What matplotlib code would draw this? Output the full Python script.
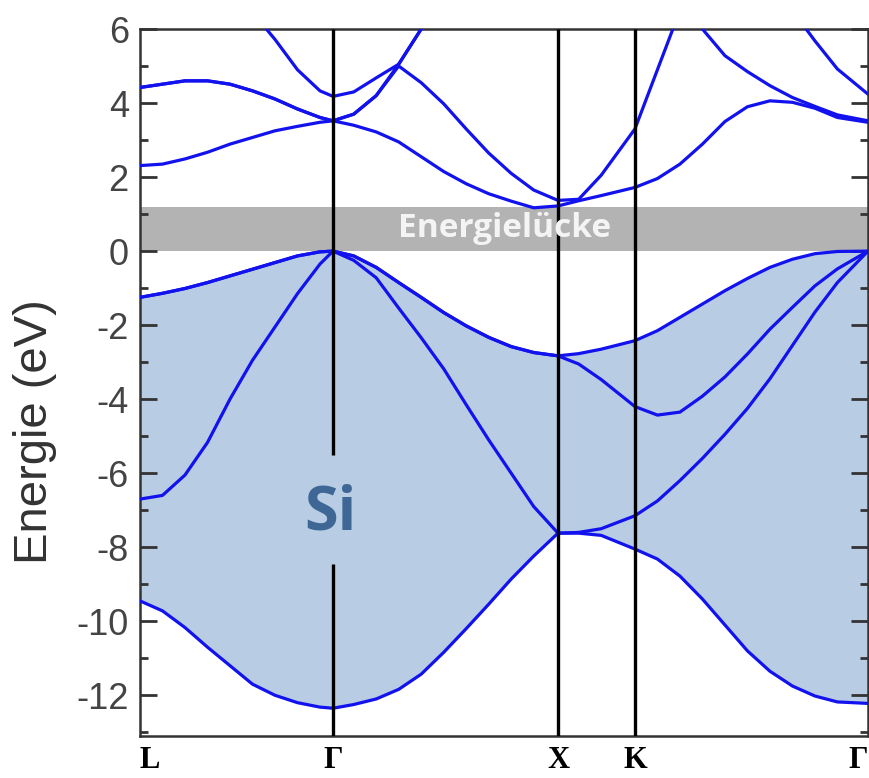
import numpy as np
import matplotlib.pyplot as plt
from matplotlib.ticker import MultipleLocator

plt.rcParams['axes.unicode_minus'] = False

nan = np.nan

# k-path positions (path units, L at 0), segments L-G, G-X, X-K, K-G
kpath = [0.0, 0.1, 0.2, 0.3, 0.4, 0.5, 0.6, 0.7, 0.8, 0.858,
         0.95, 1.05, 1.15, 1.25, 1.35, 1.45, 1.55, 1.65, 1.75, 1.858,
         1.95, 2.05, 2.2,
         2.3, 2.4, 2.5, 2.6, 2.7, 2.8, 2.9, 3.0, 3.1, 3.236]

sym_labels = ['L', 'Γ', 'X', 'K', 'Γ']
sym_pos = [0.0, 0.858, 1.858, 2.2, 3.236]

# band energies (eV), lowest first
band1 = [-9.45, -9.72, -10.17, -10.7, -11.2, -11.7, -12.0, -12.2, -12.32, -12.35,
         -12.25, -12.1, -11.84, -11.43, -10.84, -10.2, -9.54, -8.86, -8.24, -7.62,
         -7.62, -7.68, -8.05,
         -8.32, -8.78, -9.4, -10.1, -10.8, -11.35, -11.75, -12.02, -12.18, -12.22]
band2 = [-6.7, -6.6, -6.05, -5.17, -4.0, -2.95, -2.05, -1.15, -0.35, 0.0,
         -0.25, -0.72, -1.54, -2.34, -3.18, -4.15, -5.1, -6.0, -6.9, -7.62,
         -7.6, -7.5, -7.15,
         -6.75, -6.2, -5.6, -4.95, -4.25, -3.45, -2.55, -1.65, -0.85, 0.0]
band3 = [-1.25, -1.14, -1.01, -0.85, -0.67, -0.49, -0.31, -0.13, -0.02, 0.0,
         -0.13, -0.44, -0.85, -1.25, -1.66, -2.02, -2.33, -2.58, -2.74, -2.83,
         -3.05, -3.47, -4.2,
         -4.43, -4.35, -3.92, -3.4, -2.78, -2.11, -1.52, -0.94, -0.48, 0.0]
band4 = [-1.25, -1.14, -1.01, -0.85, -0.67, -0.49, -0.31, -0.13, -0.02, 0.0,
         -0.13, -0.44, -0.85, -1.25, -1.66, -2.02, -2.33, -2.58, -2.74, -2.83,
         -2.77, -2.65, -2.42,
         -2.15, -1.79, -1.43, -1.07, -0.74, -0.44, -0.22, -0.07, -0.01, 0.0]
band5 = [2.31, 2.35, 2.49, 2.67, 2.89, 3.07, 3.25, 3.37, 3.48, 3.52,
         3.4, 3.22, 2.95, 2.55, 2.15, 1.82, 1.55, 1.35, 1.17, 1.22,
         1.36, 1.5, 1.72,
         1.96, 2.35, 2.89, 3.5, 3.9, 4.06, 4.02, 3.86, 3.61, 3.48]
band6 = [4.42, 4.51, 4.6, 4.6, 4.51, 4.33, 4.11, 3.84, 3.61, 3.52,
         3.7, 4.2, 5.0, 4.55, 3.98, 3.3, 2.65, 2.1, 1.65, 1.37,
         1.4, 2.05, 3.3,
         4.9, 6.5, nan, nan, nan, nan, nan, nan, nan, nan]
band7 = [4.42, 4.51, 4.6, 4.6, 4.51, 4.33, 4.11, 3.84, 3.61, 3.52,
         3.7, 4.2, 5.05, 6.0, 6.9, nan, nan, nan, nan, nan,
         nan, nan, nan,
         nan, 7.0, 6.0, 5.28, 4.85, 4.47, 4.15, 3.91, 3.68, 3.52]
band8 = [nan, nan, nan, nan, nan, 6.45, 5.72, 4.9, 4.33, 4.18,
         4.3, 4.68, 5.05, 6.0, 6.9, nan, nan, nan, nan, nan,
         nan, nan, nan,
         nan, nan, nan, nan, nan, nan, 6.5, 5.68, 4.92, 4.24]

bands = [band1, band2, band3, band4, band5, band6, band7, band8]

gap_lo, gap_hi = 0.0, 1.18
gamma_cut = (-5.5, -8.45)     # Γ line is broken around the "Si" label

fig = plt.figure(figsize=(8.7, 7.78), dpi=100)
ax = fig.add_axes([0.1609, 0.054, 0.8368, 0.9087])

# valence region shading and band gap
ax.fill_between(kpath, band1, band4, color='#b8cce4', lw=0, zorder=1)
ax.axhspan(gap_lo, gap_hi, color='#b3b3b3', lw=0, zorder=1)

for b in bands:
    ax.plot(kpath, b, color='#1212ee', lw=2.3, zorder=3,
            solid_capstyle='round', solid_joinstyle='round')

# high symmetry lines
ax.vlines([sym_pos[2], sym_pos[3]], -13.1, 6.0, color='black', lw=2.4, zorder=4)
ax.vlines(sym_pos[1], gamma_cut[0], 6.0, color='black', lw=2.4, zorder=4)
ax.vlines(sym_pos[1], -13.1, gamma_cut[1], color='black', lw=2.4, zorder=4)

ax.text(1.62, 0.6, 'Energielücke', color='#f4f4f4', fontsize=24, fontweight='bold',
        family='Open Sans', ha='center', va='center', zorder=5)
ax.text(sym_pos[1] - 0.01, -7.1, 'Si', color='#3e6795', fontsize=44, fontweight='bold',
        family='Open Sans', ha='center', va='center', zorder=5)

ax.set_xlim(0, 3.236)
ax.set_ylim(-13.1, 6.0)

ax.set_xticks(sym_pos)
ax.set_xticklabels(sym_labels, family='Liberation Serif', fontweight='bold', fontsize=22)
ax.tick_params(axis='x', length=0, pad=7)
xlabs = ax.get_xticklabels()
xlabs[0].set_horizontalalignment('left')
xlabs[-1].set_horizontalalignment('right')

ax.yaxis.set_major_locator(MultipleLocator(2))
ax.yaxis.set_minor_locator(MultipleLocator(1))
ax.tick_params(axis='y', which='both', direction='in', left=True, right=True,
               color='#333333', width=2, labelcolor='#444444')
ax.tick_params(axis='y', which='major', length=12, labelsize=26, pad=8)
ax.tick_params(axis='y', which='minor', length=6)
for lab in ax.get_yticklabels():
    lab.set_family('Liberation Sans')

ax.set_ylabel('Energie (eV)', fontsize=34, color='#333333', family='Liberation Sans')
ax.yaxis.set_label_coords(-0.114, 0.43)

for sp in ax.spines.values():
    sp.set_color('#333333')
    sp.set_linewidth(1.8)

fig.savefig('out.png', dpi=100)
